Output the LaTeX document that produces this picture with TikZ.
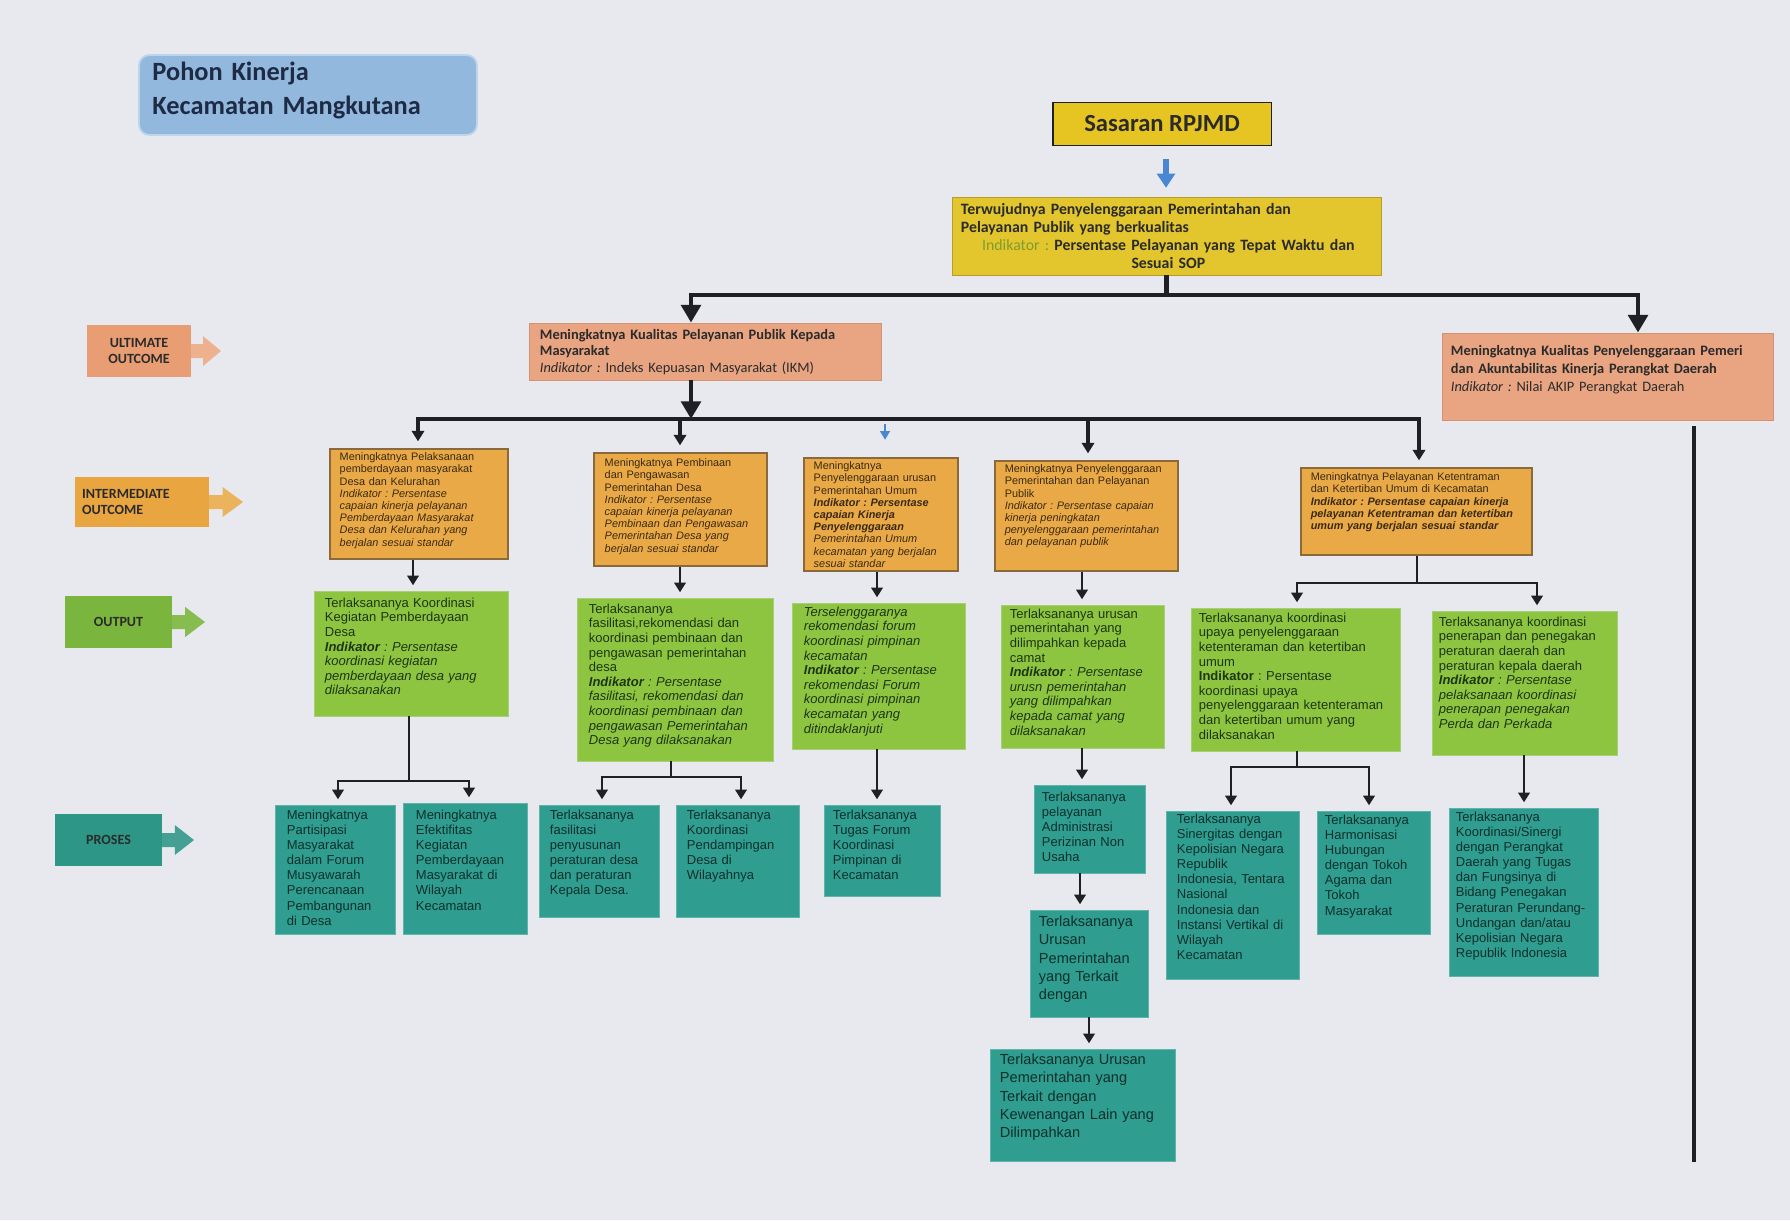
\documentclass[tikz,border=0pt]{standalone}
\usepackage{fontspec}
\setmainfont{Liberation Sans}
\newfontfamily\headfont{Carlito}
\usetikzlibrary{arrows.meta,fit,calc}
\frenchspacing
\definecolor{bgc}{HTML}{E7E9EF}
\definecolor{titlec}{HTML}{93B8DE}
\definecolor{titletxt}{HTML}{1E2B45}
\definecolor{sasc}{HTML}{E6C421}
\definecolor{goalc}{HTML}{E3C62E}
\definecolor{indg}{HTML}{7F9C2E}
\definecolor{uoc}{HTML}{E9A482}
\definecolor{uobd}{HTML}{D39272}
\definecolor{ioc}{HTML}{EAA947}
\definecolor{iobd}{HTML}{8A6A3A}
\definecolor{oc}{HTML}{8DC541}
\definecolor{obd}{HTML}{A8CE78}
\definecolor{pc}{HTML}{2F9D8F}
\definecolor{pbd}{HTML}{5FB3A8}
\definecolor{lnc}{HTML}{1F1F24}
\definecolor{bluec}{HTML}{4A87D2}
\definecolor{txtdark}{HTML}{2B2B2B}
\definecolor{iotxtc}{HTML}{3A2A12}
\definecolor{otxtc}{HTML}{1E3512}
\definecolor{ptxtc}{HTML}{0E302C}
\definecolor{lbluo}{HTML}{E89D72}
\definecolor{lblio}{HTML}{E9A640}
\definecolor{lblo}{HTML}{7AB63D}
\definecolor{lblp}{HTML}{2E9686}
\newcommand\lblhead[4]{%
  \fill[#1] (#2,#3-7) -- ({#2+0.4*(#4-#2)},#3-7) -- ({#2+0.4*(#4-#2)},#3-15) -- (#4,#3)
    -- ({#2+0.4*(#4-#2)},#3+15) -- ({#2+0.4*(#4-#2)},#3+7) -- (#2,#3+7) -- cycle;}
\tikzset{
  fitbox/.style={inner sep=0pt, rectangle},
  iobox/.style={fitbox, fill=ioc, draw=iobd, line width=0.7pt},
  obox/.style={fitbox, fill=oc, draw=obd, line width=0.5pt},
  pbox/.style={fitbox, fill=pc, draw=pbd, line width=0.5pt},
  uobox/.style={fitbox, fill=uoc, draw=uobd, line width=0.5pt},
  txtbase/.style={anchor=north west, inner sep=0pt, align=left},
  iotxt/.style={txtbase, text=iotxtc, font=\fontsize{6.2}{6.95}\selectfont},
  otxt/.style={txtbase, text=otxtc, font=\fontsize{7.4}{8.3}\selectfont},
  ptxt/.style={txtbase, text=ptxtc, font=\fontsize{7.4}{8.6}\selectfont},
  ptxtbig/.style={txtbase, text=ptxtc, font=\fontsize{8.3}{10.4}\selectfont},
  uotxt/.style={txtbase, text=txtdark, font=\headfont\bfseries\fontsize{8.2}{9.6}\selectfont},
  conn/.style={draw=lnc, line width=1.3pt},
  connarr/.style={conn, -{Triangle[width=6.5pt,length=5.5pt]}, shorten >=3pt},
  busline/.style={draw=lnc, line width=2pt},
  busarr/.style={busline, -{Triangle[width=7pt,length=6pt]}, shorten >=4pt},
  heavyline/.style={draw=lnc, line width=2.6pt},
  heavyarr/.style={heavyline, -{Triangle[width=11pt,length=10pt]}},
  lbl/.style={inner sep=0pt, font=\headfont\bfseries\fontsize{8}{9.6}\selectfont, text=txtdark},
}
\begin{document}
\begin{tikzpicture}[x=0.02cm,y=-0.02cm]
\useasboundingbox (0,0) rectangle (1790,1220);
\fill[bgc] (0,0) rectangle (1790,1220);

% title
\node[fitbox, fill=titlec, draw=titlec!60!white, line width=1pt, rounded corners=6pt, fit={(139,55) (477,135)}] (title) {};
\node[txtbase, text=titletxt, font=\headfont\bfseries\fontsize{15}{19}\selectfont, text width=6.3cm] (titlet) at ([shift={(14,8)}]title.north west) {Pohon Kinerja\\Kecamatan Mangkutana};

% sasaran
\node[rectangle, fill=sasc, draw=lnc, line width=1.1pt, minimum width=4.38cm, minimum height=0.86cm, inner sep=0pt, font=\headfont\bfseries\fontsize{14}{16}\selectfont, text=txtdark] (sas) at (1162,124) {Sasaran RPJMD};

% goal
\node[fitbox, fill=goalc, draw=goalc!80!black, line width=0.5pt, fit={(952,197) (1381,275)}] (goal) {};
\node[txtbase, font=\headfont\bfseries\fontsize{9}{10.4}\selectfont, text=txtdark, text width=8.3cm] (goalt) at ([shift={(9,6)}]goal.north west) {Terwujudnya Penyelenggaraan Pemerintahan dan\\Pelayanan Publik yang berkualitas\par\centering{\mdseries\color{indg}Indikator :} Persentase Pelayanan yang Tepat Waktu dan\\Sesuai SOP\par};

\coordinate (cx) at (1166,0);
\draw[draw=bluec, line width=3pt, -{Triangle[width=10pt,length=8pt]}, shorten <=7pt, shorten >=5pt] (sas.south -| cx) -- (goal.north -| cx);

% ultimate outcomes
\node[uobox, fit={(529,323) (881,380)}] (uo1) {};
\node[uotxt, text width=6.8cm] (uo1t) at ([shift={(11,6)}]uo1.north west) {Meningkatnya Kualitas Pelayanan Publik Kepada\\Masyarakat\\{\mdseries\itshape Indikator : }{\mdseries Indeks Kepuasan Masyarakat (IKM)}};

\node[uobox, fit={(1442,333) (1773,420)}] (uo2) {};
\begin{scope}
\clip (1442,333) rectangle (1773,420);
\node[uotxt, font=\headfont\bfseries\fontsize{8.2}{10.3}\selectfont, text width=6.4cm] (uo2t) at ([shift={(9,12)}]uo2.north west) {\mbox{Meningkatnya Kualitas Penyelenggaraan Pemeri}\\dan Akuntabilitas Kinerja Perangkat Daerah\\{\mdseries\itshape Indikator : }{\mdseries Nilai AKIP Perangkat Daerah}};
\end{scope}

\coordinate (vtop) at (1694,426);
\coordinate (vbot) at (1694,1162);
\draw[heavyline, line width=2.4pt] (vtop) -- (vbot);

% top connectors
\coordinate (j0) at ($(goal.south)+(0,20)$);
\coordinate (jL) at (691,295);
\coordinate (jR) at (1638,295);
\draw[heavyline] (goal.south) -- (j0);
\draw[heavyline, line cap=rect] (jL) -- (jR);
\draw[heavyarr] (jL) -- (jL |- uo1.north);
\draw[heavyarr] (jR) -- (jR |- uo2.north);

% intermediate outcomes
\node[iobox, fit={(330,449) (508,559)}] (io1) {};
\node[iotxt, text width=3.3cm] (io1t) at ([shift={(10,4)}]io1.north west) {Meningkatnya Pelaksanaan\\pemberdayaan masyarakat\\Desa dan Kelurahan\\{\itshape Indikator : Persentase\\capaian kinerja pelayanan\\Pemberdayaan Masyarakat\\Desa dan Kelurahan yang\\berjalan sesuai standar}};

\node[iobox, fit={(594,453) (767,566)}] (io2) {};
\node[iotxt, text width=3.15cm] (io2t) at ([shift={(11,6)}]io2.north west) {Meningkatnya Pembinaan\\dan Pengawasan\\Pemerintahan Desa\\{\itshape Indikator : Persentase\\capaian kinerja pelayanan\\Pembinaan dan Pengawasan\\Pemerintahan Desa yang\\berjalan sesuai standar}};

\node[iobox, fit={(804,458) (958,571)}] (io3) {};
\node[iotxt, text width=2.85cm] (io3t) at ([shift={(10,4)}]io3.north west) {Meningkatnya\\Penyelenggaraan urusan\\Pemerintahan Umum\\{\bfseries\itshape Indikator : Persentase\\capaian Kinerja\\Penyelenggaraan}\\{\itshape Pemerintahan Umum\\kecamatan yang berjalan\\sesuai standar}};

\node[iobox, fit={(995,461) (1178,571)}] (io4) {};
\node[iotxt, text width=3.4cm] (io4t) at ([shift={(10,4)}]io4.north west) {Meningkatnya Penyelenggaraan\\Pemerintahan dan Pelayanan\\Publik\\{\itshape Indikator : Persentase capaian\\kinerja peningkatan\\penyelenggaraan pemerintahan\\dan pelayanan publik}};

\node[iobox, fit={(1301,468) (1532,555)}] (io5) {};
\node[iotxt, text width=4.35cm] (io5t) at ([shift={(10,5)}]io5.north west) {Meningkatnya Pelayanan Ketentraman\\dan Ketertiban Umum di Kecamatan\\{\bfseries\itshape Indikator : Persentase capaian kinerja\\pelayanan Ketentraman dan ketertiban\\umum yang berjalan sesuai standar}};

% bus 2
\coordinate (k0) at (691,419);
\coordinate (kL) at (418,419);
\coordinate (kR) at (1419,419);
\coordinate (k2) at (680,419);
\coordinate (k3) at (885,419);
\coordinate (k4) at (1088,419);
\draw[heavyarr] (uo1.south -| k0) -- (k0);
\draw[busline, line cap=rect] (kL) -- (kR);
\draw[busarr] (kL) -- (kL |- io1.north);
\draw[busarr] (k2) -- (k2 |- io2.north);
\draw[draw=bluec, line width=1.3pt, -{Triangle[width=5.5pt,length=5pt]}, shorten <=3pt, shorten >=10pt] (k3) -- (k3 |- io3.north);
\draw[busarr] (k4) -- (k4 |- io4.north);
\draw[busarr] (kR) -- (kR |- io5.north);

% outputs
\node[obox, fit={(314,591) (508,716)}] (o1) {};
\node[otxt, text width=3.6cm] (o1t) at ([shift={(11,7)}]o1.north west) {Terlaksananya Koordinasi\\Kegiatan Pemberdayaan\\Desa\\{\itshape\textbf{Indikator} : Persentase\\koordinasi kegiatan\\pemberdayaan desa yang\\dilaksanakan}};

\node[obox, fit={(577,598) (773,761)}] (o2) {};
\node[otxt, text width=3.65cm] (o2t) at ([shift={(12,6)}]o2.north west) {Terlaksananya\\fasilitasi,rekomendasi dan\\koordinasi pembinaan dan\\pengawasan pemerintahan\\desa\\{\itshape\textbf{Indikator} : Persentase\\fasilitasi, rekomendasi dan\\koordinasi pembinaan dan\\pengawasan Pemerintahan\\Desa yang dilaksanakan}};

\node[obox, fit={(792,603) (965,749)}] (o3) {};
\node[otxt, text width=3.15cm] (o3t) at ([shift={(12,4)}]o3.north west) {{\itshape Terselenggaranya\\rekomendasi forum\\koordinasi pimpinan\\kecamatan\\\textbf{Indikator} : Persentase\\rekomendasi Forum\\koordinasi pimpinan\\kecamatan yang\\ditindaklanjuti}};

\node[obox, fit={(1001,605) (1164,748)}] (o4) {};
\node[otxt, text width=3.0cm] (o4t) at ([shift={(9,4)}]o4.north west) {Terlaksananya urusan\\pemerintahan yang\\dilimpahkan kepada\\camat\\{\itshape\textbf{Indikator} : Persentase\\urusn pemerintahan\\yang dilimpahkan\\kepada camat yang\\dilaksanakan}};

\node[obox, fit={(1191,608) (1400,751)}] (o5a) {};
\node[otxt, text width=3.95cm] (o5at) at ([shift={(8,5)}]o5a.north west) {Terlaksananya koordinasi\\upaya penyelenggaraan\\ketenteraman dan ketertiban\\umum\\\textbf{Indikator} : Persentase\\koordinasi upaya\\penyelenggaraan ketenteraman\\dan ketertiban umum yang\\dilaksanakan};

\node[obox, fit={(1432,611) (1617,755)}] (o5b) {};
\node[otxt, text width=3.5cm] (o5bt) at ([shift={(7,6)}]o5b.north west) {Terlaksananya koordinasi\\penerapan dan penegakan\\peraturan daerah dan\\peraturan kepala daerah\\{\itshape\textbf{Indikator} : Persentase\\pelaksanaan koordinasi\\penerapan penegakan\\Perda dan Perkada}};

% IO -> O connectors
\coordinate (xa) at (413,0);
\coordinate (xb) at (680,0);
\coordinate (xc) at (877,0);
\coordinate (xd) at (1082,0);
\draw[connarr] (io1.south -| xa) -- (o1.north -| xa);
\draw[connarr] (io2.south -| xb) -- (o2.north -| xb);
\draw[connarr] (io3.south -| xc) -- (o3.north -| xc);
\draw[connarr] (io4.south -| xd) -- (o4.north -| xd);
\coordinate (m5) at (1417,583);
\coordinate (m5L) at (1297,583);
\coordinate (m5R) at (1537,583);
\draw[conn, line width=1.6pt] (io5.south -| m5) -- (m5);
\draw[conn, line width=1.6pt, line cap=rect] (m5L) -- (m5R);
\draw[connarr, line width=1.6pt] (m5L) -- (m5L |- o5a.north);
\draw[connarr, line width=1.6pt] (m5R) -- (m5R |- o5b.north);

% proses
\node[pbox, fit={(275,805) (395,934)}] (p1a) {};
\node[ptxt, text width=2.15cm] (p1at) at ([shift={(12,5)}]p1a.north west) {Meningkatnya\\Partisipasi\\Masyarakat\\dalam Forum\\Musyawarah\\Perencanaan\\Pembangunan\\di Desa};

\node[pbox, fit={(403,803) (527,934)}] (p1b) {};
\node[ptxt, text width=2.2cm] (p1bt) at ([shift={(13,7)}]p1b.north west) {Meningkatnya\\Efektifitas\\Kegiatan\\Pemberdayaan\\Masyarakat di\\Wilayah\\Kecamatan};

\node[pbox, fit={(539,805) (659,917)}] (p2a) {};
\node[ptxt, text width=2.15cm] (p2at) at ([shift={(11,5)}]p2a.north west) {Terlaksananya\\fasilitasi\\penyusunan\\peraturan desa\\dan peraturan\\Kepala Desa.};

\node[pbox, fit={(676,805) (799,917)}] (p2b) {};
\node[ptxt, text width=2.2cm] (p2bt) at ([shift={(11,5)}]p2b.north west) {Terlaksananya\\Koordinasi\\Pendampingan\\Desa di\\Wilayahnya};

\node[pbox, fit={(824,805) (940,896)}] (p3) {};
\node[ptxt, text width=2.1cm] (p3t) at ([shift={(9,5)}]p3.north west) {Terlaksananya\\Tugas Forum\\Koordinasi\\Pimpinan di\\Kecamatan};

\node[pbox, fit={(1034,785) (1145,873)}] (p4a) {};
\node[ptxt, text width=2.0cm] (p4at) at ([shift={(8,7)}]p4a.north west) {Terlaksananya\\pelayanan\\Administrasi\\Perizinan Non\\Usaha};

\node[pbox, fit={(1030,910) (1148,1017)}] (p4b) {};
\node[ptxtbig, text width=2.15cm] (p4bt) at ([shift={(9,6)}]p4b.north west) {Terlaksananya\\Urusan\\Pemerintahan\\yang Terkait\\dengan};

\node[pbox, fit={(990,1049) (1175,1161)}] (p4c) {};
\node[ptxtbig, text width=3.45cm] (p4ct) at ([shift={(10,5)}]p4c.north west) {Terlaksananya Urusan\\Pemerintahan yang\\Terkait dengan\\Kewenangan Lain yang\\Dilimpahkan};

\node[pbox, fit={(1166,811) (1299,979)}] (p5a) {};
\node[ptxt, text width=2.4cm] (p5at) at ([shift={(11,3)}]p5a.north west) {Terlaksananya\\Sinergitas dengan\\Kepolisian Negara\\Republik\\Indonesia, Tentara\\Nasional\\Indonesia dan\\Instansi Vertikal di\\Wilayah\\Kecamatan};

\node[pbox, fit={(1317,811) (1430,934)}] (p5b) {};
\node[ptxt, text width=2.05cm] (p5bt) at ([shift={(8,4)}]p5b.north west) {Terlaksananya\\Harmonisasi\\Hubungan\\dengan Tokoh\\Agama dan\\Tokoh\\Masyarakat};

\node[pbox, fit={(1449,808) (1598,976)}] (p5c) {};
\node[ptxt, text width=2.8cm] (p5ct) at ([shift={(7,4)}]p5c.north west) {Terlaksananya\\Koordinasi/Sinergi\\dengan Perangkat\\Daerah yang Tugas\\dan Fungsinya di\\Bidang Penegakan\\Peraturan Perundang-\\Undangan dan/atau\\Kepolisian Negara\\Republik Indonesia};

% O -> P connectors
\coordinate (f0) at (409,781);
\coordinate (fL) at (338,781);
\coordinate (fR) at (469,781);
\draw[conn] (o1.south -| f0) -- (f0);
\draw[conn, line cap=rect] (fL) -- (fR);
\draw[connarr] (fL) -- (fL |- p1a.north);
\draw[connarr] (fR) -- (fR |- p1b.north);

\coordinate (g0) at (671,777);
\coordinate (gL) at (602,777);
\coordinate (gR) at (741,777);
\draw[conn] (o2.south -| g0) -- (g0);
\draw[conn, line cap=rect] (gL) -- (gR);
\draw[connarr] (gL) -- (gL |- p2a.north);
\draw[connarr] (gR) -- (gR |- p2b.north);

\draw[connarr] (o3.south -| xc) -- (p3.north -| xc);
\draw[connarr] (o4.south -| xd) -- (p4a.north -| xd);
\coordinate (xh) at (1080,0);
\coordinate (xi) at (1089,0);
\draw[connarr] (p4a.south -| xh) -- (p4b.north -| xh);
\draw[connarr] (p4b.south -| xi) -- (p4c.north -| xi);

\coordinate (h0) at (1297,767);
\coordinate (hL) at (1231,767);
\coordinate (hR) at (1369,767);
\draw[conn, line width=1.6pt] (o5a.south -| h0) -- (h0);
\draw[conn, line width=1.6pt, line cap=rect] (hL) -- (hR);
\draw[connarr, line width=1.6pt] (hL) -- (hL |- p5a.north);
\draw[connarr, line width=1.6pt] (hR) -- (hR |- p5b.north);
\coordinate (xj) at (1524,0);
\draw[connarr, line width=1.6pt] (o5b.south -| xj) -- (p5c.north -| xj);

% left labels
\node[lbl, fill=lbluo, minimum width=2.08cm, minimum height=1.04cm, align=center] (luo) at (139,351) {ULTIMATE\\OUTCOME};
\lblhead{lbluo!80!white}{191}{351}{221}
\node[lbl, fill=lblio, minimum width=2.68cm, minimum height=1.0cm, align=left, text width=2.4cm] (lio) at (142,502) {INTERMEDIATE\\OUTCOME};
\lblhead{lblio!85!white}{209}{502}{243}
\node[lbl, fill=lblo, minimum width=2.14cm, minimum height=1.04cm, align=center] (lo) at (118.5,622) {OUTPUT};
\lblhead{lblo!90!white}{172}{622}{205}
\node[lbl, fill=lblp, minimum width=2.14cm, minimum height=1.04cm, align=center] (lp) at (108.5,840) {PROSES};
\lblhead{lblp!90!white}{162}{840}{194}
\end{tikzpicture}
\end{document}
